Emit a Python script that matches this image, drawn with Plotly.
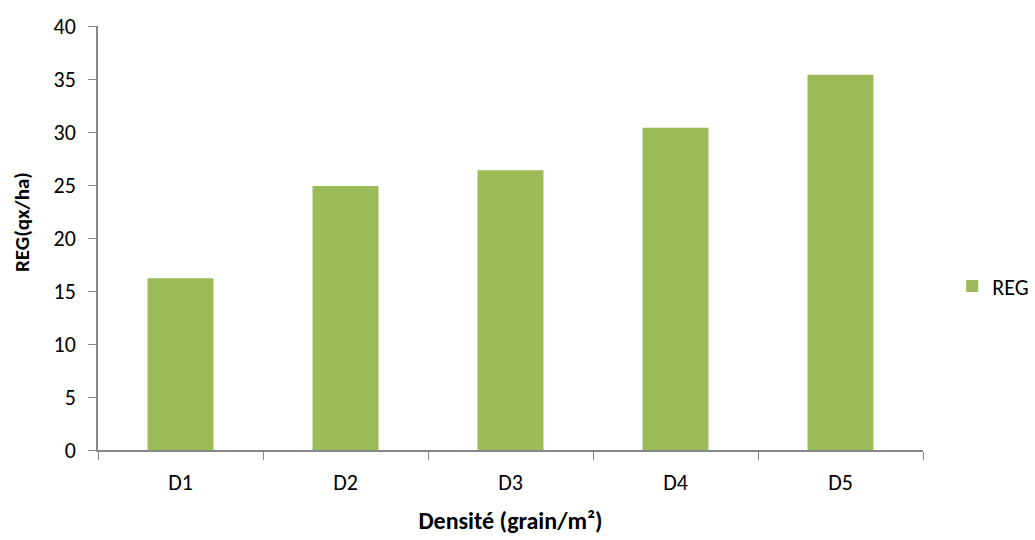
import plotly.graph_objects as go

categories = ["D1", "D2", "D3", "D4", "D5"]
reg_values = [16.2, 24.9, 26.4, 30.4, 35.4]
series_name = "REG"

FONT = "Carlito, Lato, Liberation Sans, sans-serif"

fig = go.Figure()
fig.add_trace(go.Bar(
    x=categories, y=reg_values, name=series_name,
    marker=dict(color="#9BBB59", line=dict(width=0)),
    width=0.4,
))

fig.update_layout(
    width=1035, height=540,
    margin=dict(l=98, r=112, t=26, b=90, autoexpand=False),
    paper_bgcolor="white", plot_bgcolor="white",
    font=dict(family=FONT, size=21, color="black"),
    showlegend=True,
    legend=dict(xref="container", x=0.92, y=0.47, yref="container",
                xanchor="left", yanchor="middle",
                font=dict(family=FONT, size=22, color="black"),
                itemwidth=30, bgcolor="rgba(0,0,0,0)"),
    xaxis=dict(
        type="category",
        showline=True, linecolor="#868686", linewidth=1.5,
        ticks="outside", tickson="boundaries", ticklen=8, tickcolor="#868686",
        tickfont=dict(family=FONT, size=22), ticklabelstandoff=12,
        title=dict(text="<b>Densité (grain/m²)</b>", font=dict(family=FONT, size=24), standoff=17),
        showgrid=False,
    ),
    yaxis=dict(
        range=[0, 40], dtick=5,
        showline=True, linecolor="#868686", linewidth=1.5,
        ticks="outside", ticklen=8, tickcolor="#868686",
        tickfont=dict(family=FONT, size=22), ticklabelstandoff=8,
        showgrid=False, zeroline=False,
    ),
    annotations=[dict(
        text="<b>REG(qx/ha)</b>", textangle=-90,
        xref="paper", yref="paper", x=-0.092, y=0.538,
        xanchor="center", yanchor="middle", showarrow=False,
        font=dict(family=FONT, size=21, color="black"),
    )],
)

fig.write_html("out.html")
